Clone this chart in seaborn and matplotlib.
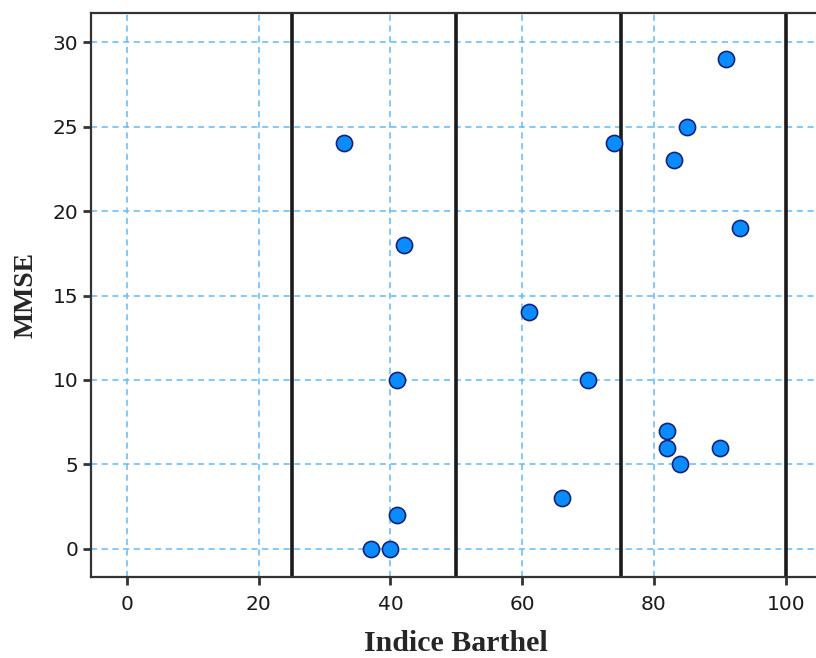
import matplotlib
matplotlib.use("Agg")
import matplotlib.pyplot as plt
import seaborn as sns
import pandas as pd

# Barthel index vs MMSE score per patient
barthel = [33, 42, 41, 41, 37, 40, 61, 66, 70, 74, 82, 82, 84, 83, 85, 91, 93, 90]
mmse = [24, 18, 10, 2, 0, 0, 14, 3, 10, 24, 7, 6, 5, 23, 25, 29, 19, 6]
cutoffs = [25, 50, 75, 100]
xticks = [0, 20, 40, 60, 80, 100]
yticks = [0, 5, 10, 15, 20, 25, 30]

df = pd.DataFrame({"Indice Barthel": barthel, "MMSE": mmse})

sns.set_style("white")
fig = plt.figure(figsize=(8.16, 6.58), dpi=100)
ax = fig.add_axes([91 / 816, 81 / 658, 729 / 816, 564 / 658])

ax.set_xlim(-5.46, 105.2)
ax.set_ylim(-1.66, 31.72)
ax.set_xticks(xticks)
ax.set_yticks(yticks)

ax.grid(True, color="#5cbcff", linestyle=(0, (4, 3)), linewidth=1.1)
ax.set_axisbelow(True)

for c in cutoffs:
    ax.axvline(c, color="#1a1a1a", linewidth=2.6, zorder=2)

sns.scatterplot(data=df, x="Indice Barthel", y="MMSE", ax=ax,
                s=135, color="#0a8cff", edgecolor="#14237a", linewidth=1.2,
                zorder=3)

for side in ["left", "bottom", "top"]:
    ax.spines[side].set_color("#333333")
    ax.spines[side].set_linewidth(1.6)
ax.spines["right"].set_visible(False)

ax.tick_params(axis="both", direction="out", length=6, width=2,
               color="#333333", labelsize=14.5, labelcolor="#1a1a1a")
ax.tick_params(axis="x", bottom=True, pad=7)
ax.tick_params(axis="y", left=True, pad=3)

ax.set_xlabel("Indice Barthel", family="Liberation Serif", fontweight="bold",
              fontsize=21.5, labelpad=11.5)
ax.set_ylabel("MMSE", family="Liberation Serif", fontweight="bold",
              fontsize=20, labelpad=10)

fig.savefig("out.png", dpi=100)
